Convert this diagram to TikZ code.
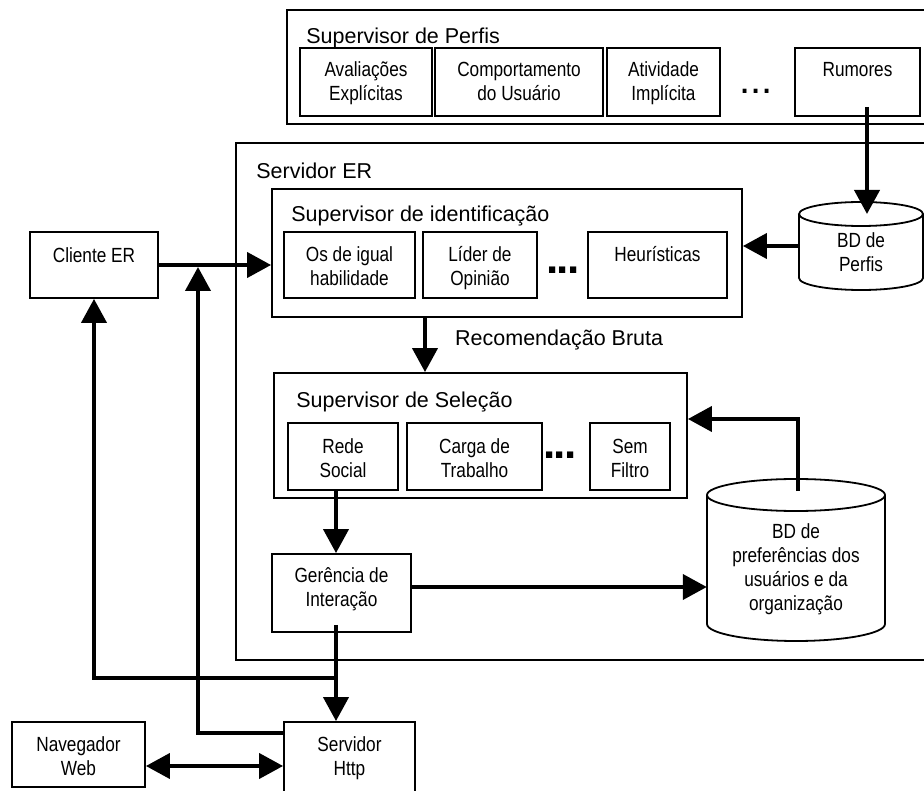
\documentclass[tikz,border=0pt]{standalone}
\usepackage{fontspec}
\setmainfont{Liberation Sans}
\newfontfamily\narrowfont{Liberation Sans}[FakeStretch=0.84]
\usetikzlibrary{arrows.meta,calc}

\tikzset{
  frame/.style={draw, line width=1.8pt, inner sep=0pt},
  ghost/.style={inner sep=0pt},
  boxline/.style={line width=1.8pt},
  lab/.style={inner sep=0pt, align=center, font=\narrowfont\fontsize{20.5}{24}\selectfont},
  head/.style={inner sep=0pt, anchor=base west, font=\fontsize{21.5}{26}\selectfont},
  dotsthin/.style={inner sep=0pt, font=\fontsize{40}{40}\selectfont},
  dotsbold/.style={inner sep=0pt, font=\fontsize{44}{44}\selectfont\bfseries},
  arr/.style={line width=4pt, -{Triangle[length=24pt,width=25pt]}},
  twoarr/.style={line width=4pt, {Triangle[length=24pt,width=25pt]}-{Triangle[length=24pt,width=25pt]}},
}

\begin{document}
\begin{tikzpicture}[x=1pt, y=-1pt]
\fill[white] (0,0) rectangle (924,791);
\path[use as bounding box, clip] (0,0) rectangle (924,791);

% ---------- Supervisor de Perfis ----------
\node[frame, minimum width=673, minimum height=114] (perf) at (623.5,67) {};
\node[head] (perf-h) at ($(perf.north west)+(20,34)$) {Supervisor de Perfis};
\node[frame, minimum width=132, minimum height=68] (aval) at (366,82) {};
\node[frame, minimum width=168, minimum height=68] (comp) at (519,82) {};
\node[frame, minimum width=113, minimum height=68] (ativ) at (663.5,82) {};
\node[frame, minimum width=125, minimum height=68] (rum)  at (857.5,82) {};
\node[lab, anchor=north] (aval-t) at ([yshift=-12pt]aval.north) {\strut Avaliações\\\strut Explícitas};
\node[lab, anchor=north] (comp-t) at ([yshift=-12pt]comp.north) {\strut Comportamento\\\strut do Usuário};
\node[lab, anchor=north] (ativ-t) at ([yshift=-12pt]ativ.north) {\strut Atividade\\\strut Implícita};
\node[lab, anchor=north] (rum-t)  at ([yshift=-12pt]rum.north)  {\strut Rumores};
\node[dotsthin] (perf-dots) at (756,91) {...};

% ---------- Servidor ER ----------
\node[frame, minimum width=724, minimum height=517] (srv) at (598,401.5) {};
\node[head] (srv-h) at ($(srv.north west)+(21,36)$) {Servidor ER};

% Supervisor de identificação
\node[frame, minimum width=470, minimum height=128] (ident) at (507,253) {};
\node[head] (ident-h) at ($(ident.north west)+(20,33)$) {Supervisor de identificação};
\node[frame, minimum width=131, minimum height=66] (osig)  at (349.5,265) {};
\node[frame, minimum width=114, minimum height=66] (lider) at (480,265) {};
\node[frame, minimum width=139, minimum height=66] (heur)  at (657.5,265) {};
\node[lab, anchor=north] (osig-t)  at ([yshift=-13pt]osig.north)  {\strut Os de igual\\\strut habilidade};
\node[lab, anchor=north] (lider-t) at ([yshift=-13pt]lider.north) {\strut Líder de\\\strut Opinião};
\node[lab, anchor=north] (heur-t)  at ([yshift=-13pt]heur.north)  {\strut Heurísticas};
\node[dotsbold] (ident-dots) at (563,270) {.\kern-1.7pt.\kern-1.7pt.};

\node[head] (rec-h) at (455,346) {Recomendação Bruta};

% Supervisor de Seleção
\node[frame, minimum width=413, minimum height=125] (sel) at (480.5,435.5) {};
\node[head] (sel-h) at ($(sel.north west)+(23,35)$) {Supervisor de Seleção};
\node[frame, minimum width=110, minimum height=67] (rede)  at (343,456.5) {};
\node[frame, minimum width=135, minimum height=67] (carga) at (474.5,456.5) {};
\node[frame, minimum width=80,  minimum height=67] (sem)   at (630,456.5) {};
\node[lab, anchor=north] (rede-t)  at ([yshift=-14pt]rede.north)  {\strut Rede\\\strut Social};
\node[lab, anchor=north] (carga-t) at ([yshift=-14pt]carga.north) {\strut Carga de\\\strut Trabalho};
\node[lab, anchor=north] (sem-t)   at ([yshift=-14pt]sem.north)   {\strut Sem\\\strut Filtro};
\node[dotsbold] (sel-dots) at (560,455) {.\kern-1.7pt.\kern-1.7pt.};

% Gerência de Interação
\node[frame, minimum width=139, minimum height=78] (ger) at (341.5,593) {};
\node[lab, anchor=north] (ger-t) at ([yshift=-12pt]ger.north) {\strut Gerência de\\\strut Interação};

% ---------- outside the server ----------
\node[frame, minimum width=128, minimum height=66] (cli)  at (94,265) {};
\node[lab, anchor=north] (cli-t) at ([yshift=-14pt]cli.north) {\strut Cliente ER};
\node[frame, minimum width=131, minimum height=73] (http) at (349.5,758.5) {};
\node[lab, anchor=north] (http-t) at ([yshift=-13pt]http.north) {\strut Servidor\\\strut Http};
\node[frame, minimum width=133, minimum height=65] (nav)  at (78.5,754.5) {};
\node[lab, anchor=north] (nav-t) at ([yshift=-13pt]nav.north) {\strut Navegador\\\strut Web};

% ---------- databases (cylinders) ----------
% BD de Perfis
\node[ghost, minimum width=124, minimum height=88] (bdp) at (861,246) {};
\draw[boxline] (861,278) ellipse [x radius=62, y radius=12];
\fill[white] (799,214) rectangle (923,278);
\draw[boxline] (799,214) -- (799,278) (923,214) -- (923,278);
\draw[boxline, fill=white] (861,214) ellipse [x radius=62, y radius=12];
\coordinate (bdpTop) at (861,214);
\node[lab] (bdp-t) at (861,255) {\strut BD de\\\strut Perfis};

% BD de preferências
\node[ghost, minimum width=178, minimum height=163] (bdpref) at (796,559.5) {};
\draw[boxline] (796,624) ellipse [x radius=89, y radius=17];
\fill[white] (707,495) rectangle (885,624);
\draw[boxline] (707,495) -- (707,624) (885,495) -- (885,624);
\draw[boxline, fill=white] (796,495) ellipse [x radius=89, y radius=16];
\coordinate (bdprefTop) at (796,491);
\node[lab] (bdpref-t) at (796,570) {\strut BD de\\\strut preferências dos\\\strut usuários e da\\\strut organização};

% ---------- connectors ----------
\coordinate (rumX) at (867,0);
\coordinate (rumStart) at ([yshift=10pt]rum.south);
\draw[arr] (rumStart -| rumX) -- (bdpTop -| rumX);

\draw[arr] (bdp.west) -- (bdp.west -| ident.east);
\draw[arr] (cli.east) -- (cli.east -| ident.west);

\coordinate (recX) at (425,0);
\draw[arr] (ident.south -| recX) -- (sel.north -| recX);

\coordinate (prefX) at (798,0);
\coordinate (selY) at (0,419);
\draw[arr] (bdprefTop -| prefX) |- (sel.east |- selY);

\coordinate (gerX) at (336,0);
\draw[arr] (rede.south -| gerX) -- (ger.north -| gerX);
\coordinate (gerStart) at ([yshift=8pt]ger.south);
\draw[arr] (gerStart -| gerX) -- (http.north -| gerX);

\coordinate (prefY) at (0,587);
\draw[arr] (ger.east |- prefY) -- (bdpref.west |- prefY);

\coordinate (cliY) at (0,678);
\draw[arr] (gerX |- cliY) -| (cli.south);

\coordinate (upY) at (0,733);
\coordinate (upEnd) at (198,267);
\draw[arr] (http.west |- upY) -| (upEnd);

\coordinate (navY) at (0,766);
\draw[twoarr] (nav.east |- navY) -- (http.west |- navY);
\end{tikzpicture}
\end{document}
